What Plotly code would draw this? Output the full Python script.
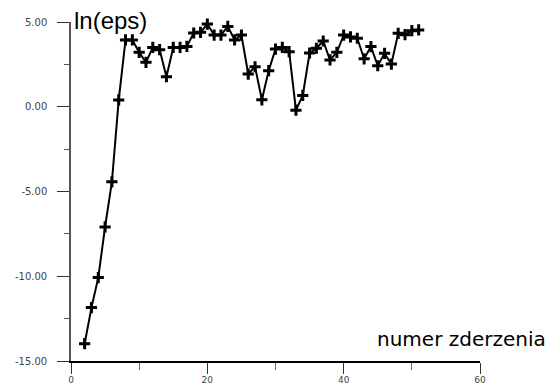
import plotly.graph_objects as go

# collision number
numer = list(range(2, 52))
# ln(eps) values
ln_eps = [-13.98, -11.85, -10.08, -7.09, -4.43, 0.40, 3.94, 3.94, 3.21, 2.62,
          3.50, 3.37, 1.77, 3.50, 3.50, 3.56, 4.35, 4.39, 4.88, 4.23,
          4.23, 4.74, 3.94, 4.23, 1.93, 2.36, 0.41, 2.13, 3.40, 3.50,
          3.25, -0.20, 0.67, 3.17, 3.45, 3.88, 2.76, 3.21, 4.23, 4.12,
          4.04, 2.83, 3.55, 2.42, 3.15, 2.52, 4.33, 4.25, 4.49, 4.53]

x_tickvals = [0, 20, 40, 60]
x_ticktext = ["0", "20", "40", "60"]
y_tickvals = [5, 0, -5, -10, -15]
y_ticktext = ["5.00", "0.00", "-5.00", "-10.00", "-15.00"]

fig = go.Figure()
fig.add_trace(go.Scatter(
    x=numer, y=ln_eps, mode="lines+markers",
    line=dict(color="black", width=2),
    marker=dict(symbol="cross-thin", size=8, color="black",
                line=dict(color="black", width=3)),
    cliponaxis=False, showlegend=False,
))

tick_font = dict(family="DejaVu Sans, sans-serif", size=10, color="#444")

fig.update_layout(
    width=560, height=388,
    margin=dict(l=70.5, r=80, t=21.7, b=27.3),
    paper_bgcolor="white", plot_bgcolor="white",
    font=dict(family="Liberation Sans, Arial, sans-serif", color="#333"),
    xaxis=dict(range=[0, 60], showgrid=False, zeroline=False, automargin=False,
               showline=True, linecolor="black", linewidth=1.5,
               ticks="outside", ticklen=11, tickcolor="#333", tickwidth=1,
               tickvals=x_tickvals, ticktext=x_ticktext,
               tickfont=dict(family="DejaVu Sans, sans-serif", size=9, color="#444"),
               ticklabelstandoff=-2,
               minor=dict(ticks="outside", ticklen=7, dtick=10, tick0=0,
                          tickcolor="#666", tickwidth=1)),
    yaxis=dict(range=[-15, 5], showgrid=False, zeroline=False, automargin=False,
               showline=True, linecolor="#555", linewidth=1.5,
               ticks="outside", ticklen=12, tickcolor="#333", tickwidth=1,
               tickvals=y_tickvals, ticktext=y_ticktext,
               tickfont=tick_font,
               ticklabelstandoff=8,
               minor=dict(ticks="outside", ticklen=5, dtick=2.5, tick0=0,
                          tickcolor="#555", tickwidth=1)),
    annotations=[
        dict(text="ln(eps)", xref="paper", yref="paper", x=0.0, y=1.0,
             xanchor="left", yanchor="middle", xshift=1, yshift=2, showarrow=False,
             font=dict(family="Liberation Sans, Arial, sans-serif", size=24, color="black")),
        dict(text="numer zderzenia", xref="paper", yref="paper", x=1.0, y=0.0,
             xanchor="right", yanchor="bottom", xshift=68, yshift=8,
             showarrow=False,
             font=dict(family="DejaVu Sans, sans-serif", size=20, color="black")),
    ],
)

fig.write_html("out.html", config={"displayModeBar": False},
               post_script="document.body.style.margin='0';document.body.style.overflow='hidden';")
